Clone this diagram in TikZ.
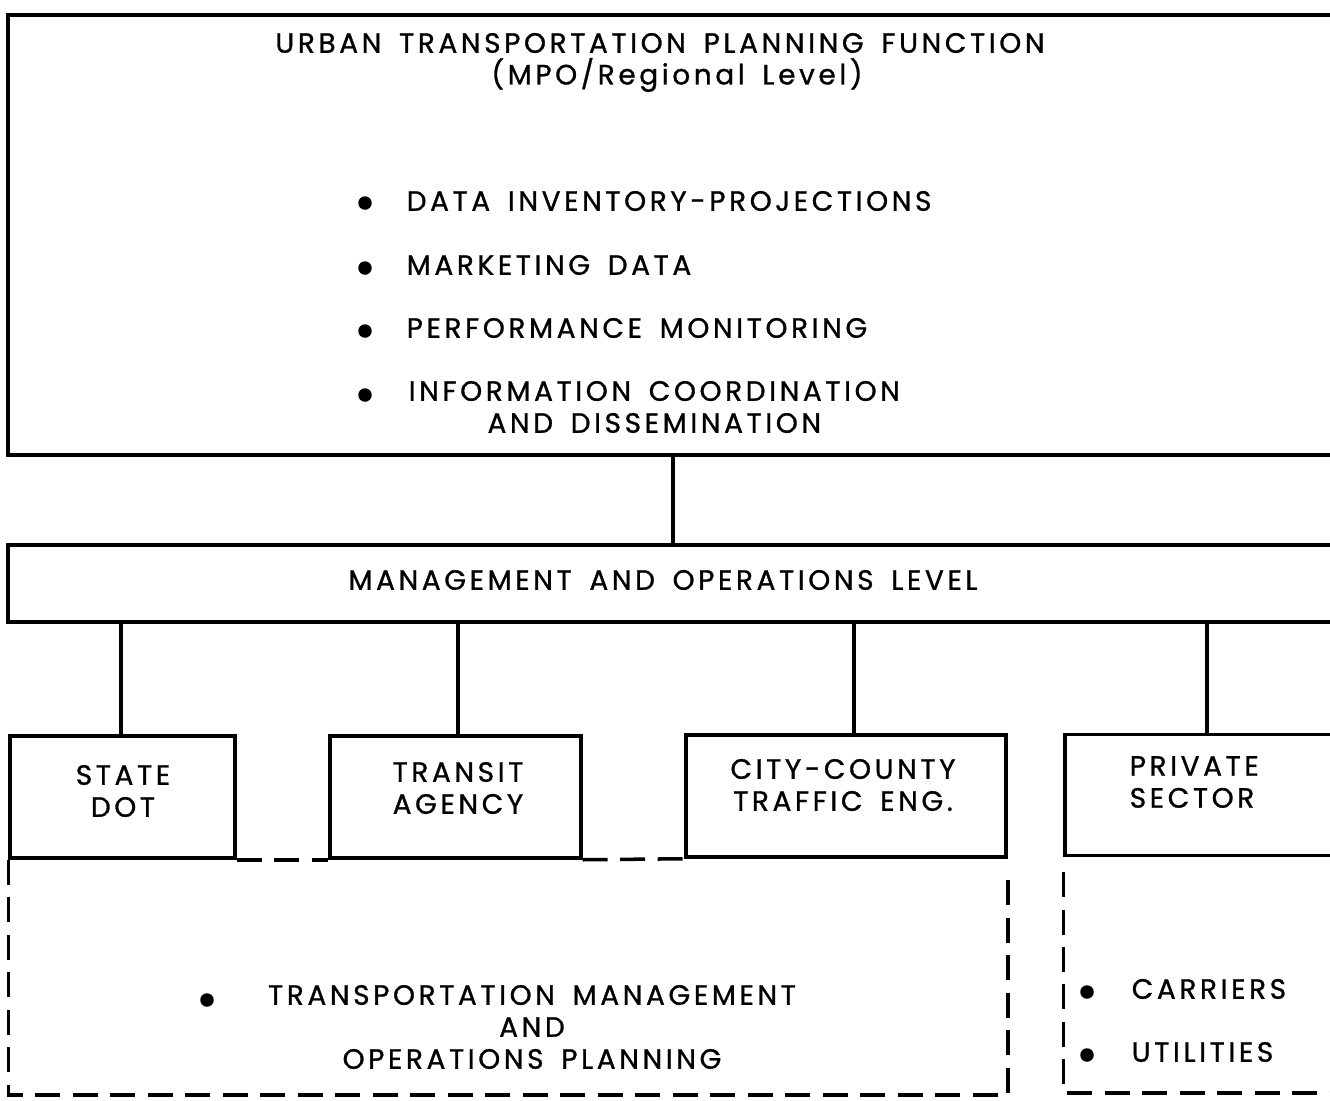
\documentclass[tikz,border=0pt]{standalone}
\usepackage{fontspec}
\setmainfont[LetterSpace=13,WordSpace=1.6,FakeBold=1]{Poppins}
\usetikzlibrary{positioning}

\tikzset{
    orgbox/.style={draw, line width=2pt, inner sep=0pt},
    txt/.style={inner sep=0pt, align=center, font=\fontsize{15.9}{18.2}\selectfont},
    dashline/.style={line width=2pt, dash pattern=on 0.5cm off 0.25cm},
    bullet/.style={circle, fill, inner sep=0pt, minimum size=0.27cm}
}

\begin{document}
\begin{tikzpicture}[x=0.02cm,y=-0.02cm, line width=2pt]
\useasboundingbox (0,0) rectangle (1330,1100);
\clip (0,0) rectangle (1330,1100);

% Regional level
\node[orgbox, minimum width=27.04cm, minimum height=8.8cm] (urban) at (684,235){};
\node[txt] (urbantitle) at (660,43){URBAN TRANSPORTATION PLANNING FUNCTION};
\node[txt] (urbansub) at (677,75){(MPO/Regional Level)};
\node[bullet] (b1) at (365,203){};
\node[bullet] (b2) at (365,268){};
\node[bullet] (b3) at (365,331){};
\node[bullet] (b4) at (365,395){};
\node[txt, anchor=west] (datatxt) at (405,201){DATA INVENTORY-PROJECTIONS};
\node[txt, anchor=west] (markettxt) at (405,265){MARKETING DATA};
\node[txt, anchor=west] (perftxt) at (405,328){PERFORMANCE MONITORING};
\node[txt, anchor=west] (infotxt) at (407,407){INFORMATION COORDINATION\\AND DISSEMINATION};

% Management and operations
\node[orgbox, minimum width=27.04cm, minimum height=1.54cm] (mgmt) at (684,583.5){};
\node[txt] (mgmttxt) at (663,580){MANAGEMENT AND OPERATIONS LEVEL};
\coordinate (trunk) at (673,500);
\draw (trunk |- urban.south) -- (trunk |- mgmt.north);

% Agencies
\node[orgbox, minimum width=4.5cm, minimum height=2.44cm] (state) at (122.5,797){};
\node[orgbox, minimum width=5.02cm, minimum height=2.44cm] (transit) at (455.5,797){};
\node[orgbox, minimum width=6.4cm, minimum height=2.44cm] (city) at (846,796){};
\node[orgbox, minimum width=5.9cm, minimum height=2.42cm] (private) at (1212.5,795){};
\node[txt] (statetxt) at (123,791){STATE\\DOT};
\node[txt] (transittxt) at (458,788){TRANSIT\\AGENCY};
\node[txt] (citytxt) at (843,785){CITY-COUNTY\\TRAFFIC ENG.};
\node[txt, align=left, anchor=west] (privatetxt) at (1128,782){PRIVATE\\SECTOR};

\draw (state.north -| 121,0) -- (mgmt.south -| 121,0);
\draw (transit.north -| 458,0) -- (mgmt.south -| 458,0);
\draw (city.north -| 854,0) -- (mgmt.south -| 854,0);
\draw (private.north -| 1207,0) -- (mgmt.south -| 1207,0);

% Public operations planning
\draw[dashline] (state.south east) -- (transit.south west);
\draw[dashline] (transit.south east) -- (city.south west);
\draw[dashline] (state.south west) |- (1008,1095) -- (1008,874);
\node[bullet] (b5) at (207,1000){};
\node[txt] (tmtxt) at (532,1027){TRANSPORTATION MANAGEMENT\\AND\\OPERATIONS PLANNING};

% Private side
\coordinate (privend) at (1360,1093);
\draw[dashline] (private.south west |- 0,872) |- (privend);
\node[bullet] (b6) at (1087,992){};
\node[bullet] (b7) at (1087,1055){};
\node[txt, anchor=west] (carrtxt) at (1130,989){CARRIERS};
\node[txt, anchor=west] (utiltxt) at (1130,1052){UTILITIES};

\end{tikzpicture}
\end{document}
